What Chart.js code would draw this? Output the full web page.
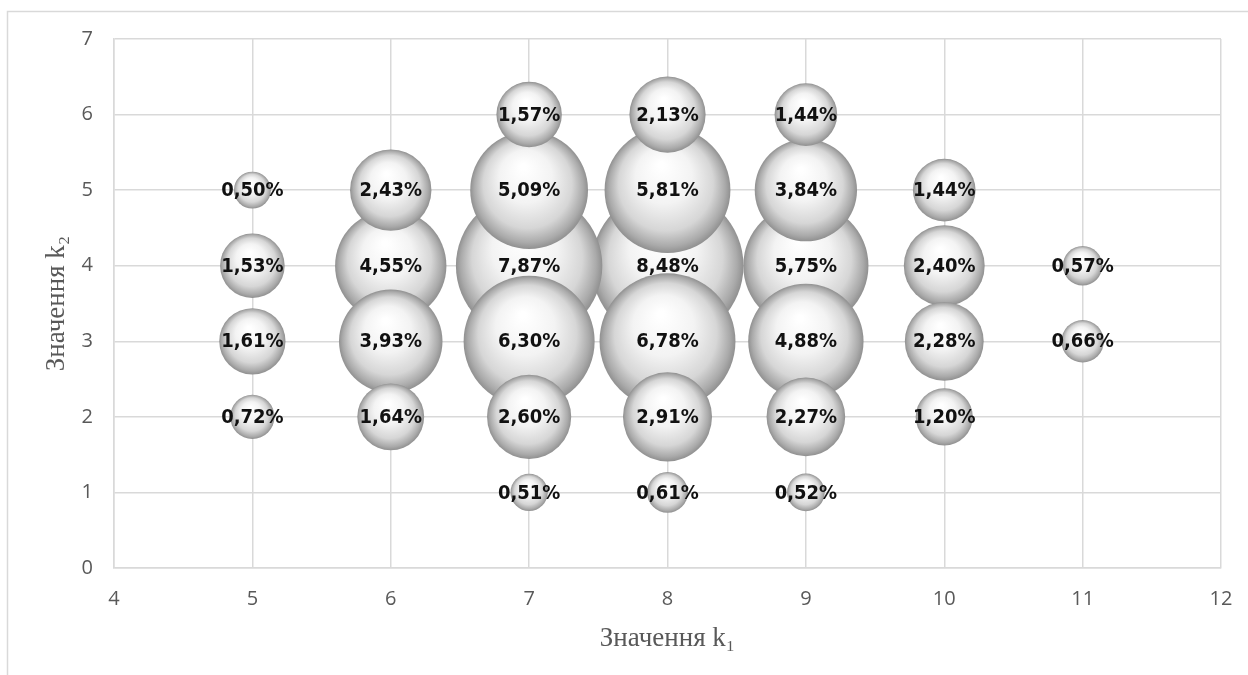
<!DOCTYPE html>
<html>
<head>
<meta charset="utf-8">
<script src="https://cdn.jsdelivr.net/npm/chart.js@4.4.0/dist/chart.umd.min.js"></script>
<style>
  html, body { margin: 0; padding: 0; background: #fff; }
  #wrap { width: 1248px; height: 675px; position: relative; }
</style>
</head>
<body>
<div id="wrap"><canvas id="bubble_chart"></canvas></div>
<script>
// k1 / k2 position of every bubble and its share, %
const k1_values = [5, 5, 5, 5, 6, 6, 6, 6, 7, 7, 7, 7, 7, 7, 8, 8, 8, 8, 8, 8, 9, 9, 9, 9, 9, 9, 10, 10, 10, 10, 11, 11];
const k2_values = [5, 4, 3, 2, 5, 4, 3, 2, 6, 5, 4, 3, 2, 1, 6, 5, 4, 3, 2, 1, 6, 5, 4, 3, 2, 1, 5, 4, 3, 2, 4, 3];
const shares = [0.50, 1.53, 1.61, 0.72, 2.43, 4.55, 3.93, 1.64, 1.57, 5.09, 7.87, 6.30, 2.60, 0.51,
  2.13, 5.81, 8.48, 6.78, 2.91, 0.61, 1.44, 3.84, 5.75, 4.88, 2.27, 0.52, 1.44, 2.40, 2.28, 1.20, 0.57, 0.66];

const x_range = [4, 12];
const y_range = [0, 7];
const x_title = "Значення k₁";
const y_title = "Значення k₂";

const max_radius = 76;
const max_share = Math.max(...shares);

// bigger bubbles go first so the small ones sit on top (like Excel)
const order = shares.map((v, i) => i).sort((a, b) => shares[b] - shares[a]);
const points = [];
order.forEach(i => {
  points.push({
    x: k1_values[i],
    y: k2_values[i],
    r: max_radius * Math.sqrt(shares[i] / max_share),
    v: shares[i]
  });
});

function sphere(ctx) {
  const chart = ctx.chart;
  const p = ctx.raw;
  if (!chart.chartArea || !p) return "#e0e0e0";
  const cx = chart.scales.x.getPixelForValue(p.x);
  const cy = chart.scales.y.getPixelForValue(p.y);
  const r = p.r;
  const g = chart.ctx.createRadialGradient(cx - r * 0.1, cy - r * 0.4, r * 0.05, cx, cy, r);
  g.addColorStop(0, "#ffffff");
  g.addColorStop(0.42, "#f3f3f3");
  g.addColorStop(0.74, "#d6d6d6");
  g.addColorStop(0.92, "#aaaaaa");
  g.addColorStop(1, "#909090");
  return g;
}

const bubble_labels = {
  id: "bubble_labels",
  afterDatasetsDraw(chart) {
    const c = chart.ctx;
    const meta = chart.getDatasetMeta(0);
    c.save();
    c.font = 'bold 20px "DejaVu Sans Condensed", "DejaVu Sans", sans-serif';
    c.fillStyle = "#111";
    c.textAlign = "center";
    c.textBaseline = "middle";
    meta.data.forEach((el, i) => {
      const p = chart.data.datasets[0].data[i];
      c.fillText(p.v.toFixed(2).replace(".", ",") + "%", el.x, el.y + 1);
    });
    c.restore();
  }
};

const frame = {
  id: "frame",
  beforeDraw(chart) {
    const c = chart.ctx;
    c.save();
    c.strokeStyle = "#d9d9d9";
    c.lineWidth = 1.5;
    c.beginPath();
    c.moveTo(7.5, chart.height);
    c.lineTo(7.5, 11.5);
    c.lineTo(chart.width, 11.5);
    c.stroke();
    c.restore();
  }
};

const tick_font = { family: "Open Sans", size: 20 };
const title_font = { family: "Liberation Serif", size: 27 };

new Chart(document.getElementById("bubble_chart"), {
  type: "bubble",
  data: {
    datasets: [{
      data: points,
      backgroundColor: sphere,
      borderWidth: 0,
      hoverBorderWidth: 0
    }]
  },
  options: {
    responsive: true,
    maintainAspectRatio: false,
    animation: false,
    events: [],
    layout: { autoPadding: false, padding: { left: 0, top: 39, right: 27, bottom: 0 } },
    plugins: {
      legend: { display: false },
      tooltip: { enabled: false }
    },
    scales: {
      x: {
        type: "linear",
        min: x_range[0],
        max: x_range[1],
        ticks: { stepSize: 1, padding: 19, color: "#595959", font: tick_font },
        grid: { color: "#d9d9d9", lineWidth: 1.5, drawTicks: false },
        border: { color: "#d9d9d9", width: 1.5 },
        title: { display: true, text: x_title, color: "#595959", font: title_font, padding: { top: 0, bottom: 20 } },
        afterFit: s => { s.height = 107; s.paddingLeft = 0; s.paddingRight = 0; }
      },
      y: {
        type: "linear",
        min: y_range[0],
        max: y_range[1],
        ticks: { stepSize: 1, padding: 21, color: "#595959", font: tick_font },
        grid: { color: "#d9d9d9", lineWidth: 1.5, drawTicks: false },
        border: { color: "#d9d9d9", width: 1.5 },
        title: { display: true, text: y_title, color: "#595959", font: title_font, padding: { top: 41, bottom: 0 } },
        afterFit: s => { s.width = 114; s.paddingTop = 0; s.paddingBottom = 0; }
      }
    }
  },
  plugins: [frame, bubble_labels]
});
</script>
</body>
</html>
